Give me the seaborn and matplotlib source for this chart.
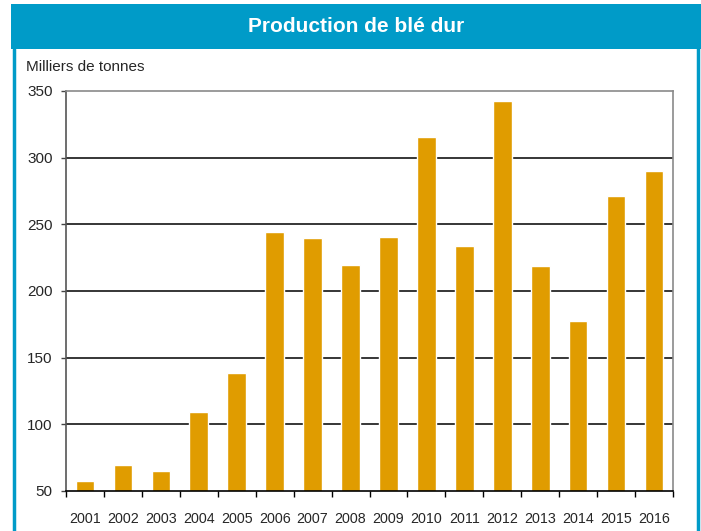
import pandas as pd
import matplotlib.pyplot as plt
import seaborn as sns
from matplotlib.patches import Rectangle
from matplotlib.lines import Line2D

# Data
years = ['2001', '2002', '2003', '2004', '2005', '2006', '2007', '2008',
         '2009', '2010', '2011', '2012', '2013', '2014', '2015', '2016']
production = [57.5, 69.5, 65, 109, 138.5, 244, 239.5, 219.5,
              240.5, 315.5, 233.5, 342.5, 218.5, 177.5, 271.5, 290]
y_ticks = [50, 100, 150, 200, 250, 300, 350]

df = pd.DataFrame({'annee': years, 'prod': production})

sns.set_style('white')
plt.rcParams['font.family'] = ['Liberation Sans', 'DejaVu Sans']

blue = '#009BC8'
orange = '#E09C00'

fig = plt.figure(figsize=(7.01, 5.31), dpi=100)
ax = fig.add_axes([66 / 701, 40 / 531, 607 / 701, 400 / 531])

# gridlines behind bars
for v in y_ticks[1:-1]:
    ax.axhline(v, color='black', lw=1.1, zorder=0)

sns.barplot(data=df, x='annee', y='prod', color=orange, width=0.49,
            saturation=1, ax=ax, zorder=2)

ax.set_ylim(50, 350)
ax.set_xlim(-0.5, len(years) - 0.5)
ax.set_yticks(y_ticks)
ax.set_xlabel('')
ax.set_ylabel('')

# ticks between categories
ax.set_xticks([i - 0.5 for i in range(len(years) + 1)], minor=True)
ax.tick_params(axis='x', which='major', length=0, pad=15, labelsize=10.3)
ax.tick_params(axis='x', which='minor', length=4, width=1, color='black',
               direction='out', bottom=True)
ax.tick_params(axis='y', length=3.5, width=1, color='#444444', pad=6,
               labelsize=11, left=True)

ax.spines['bottom'].set_color('black')
ax.spines['bottom'].set_linewidth(1.2)
ax.spines['left'].set_color('#555555')
ax.spines['left'].set_linewidth(1.2)
ax.spines['top'].set_color('#8a8a8a')
ax.spines['top'].set_linewidth(1.2)
ax.spines['right'].set_color('#8a8a8a')
ax.spines['right'].set_linewidth(1.2)

fig.text(26 / 701, 1 - 67 / 531, 'Milliers de tonnes', fontsize=11,
         va='center', ha='left')

# blue header and frame
fig.patches.append(Rectangle((11 / 701, 1 - 49 / 531), 690 / 701, 45 / 531,
                             transform=fig.transFigure, facecolor=blue,
                             edgecolor='none', zorder=0))
fig.lines.append(Line2D([14 / 701, 14 / 701], [0, 1 - 49 / 531],
                        transform=fig.transFigure, color=blue, lw=2.5))
fig.lines.append(Line2D([698 / 701, 698 / 701], [0, 1 - 45 / 531],
                        transform=fig.transFigure, color=blue, lw=2.5))
fig.text(356 / 701, 1 - 27 / 531, 'Production de blé dur', color='white',
         fontsize=15, fontweight='bold', ha='center', va='center')

fig.savefig('out.png', dpi=100)
